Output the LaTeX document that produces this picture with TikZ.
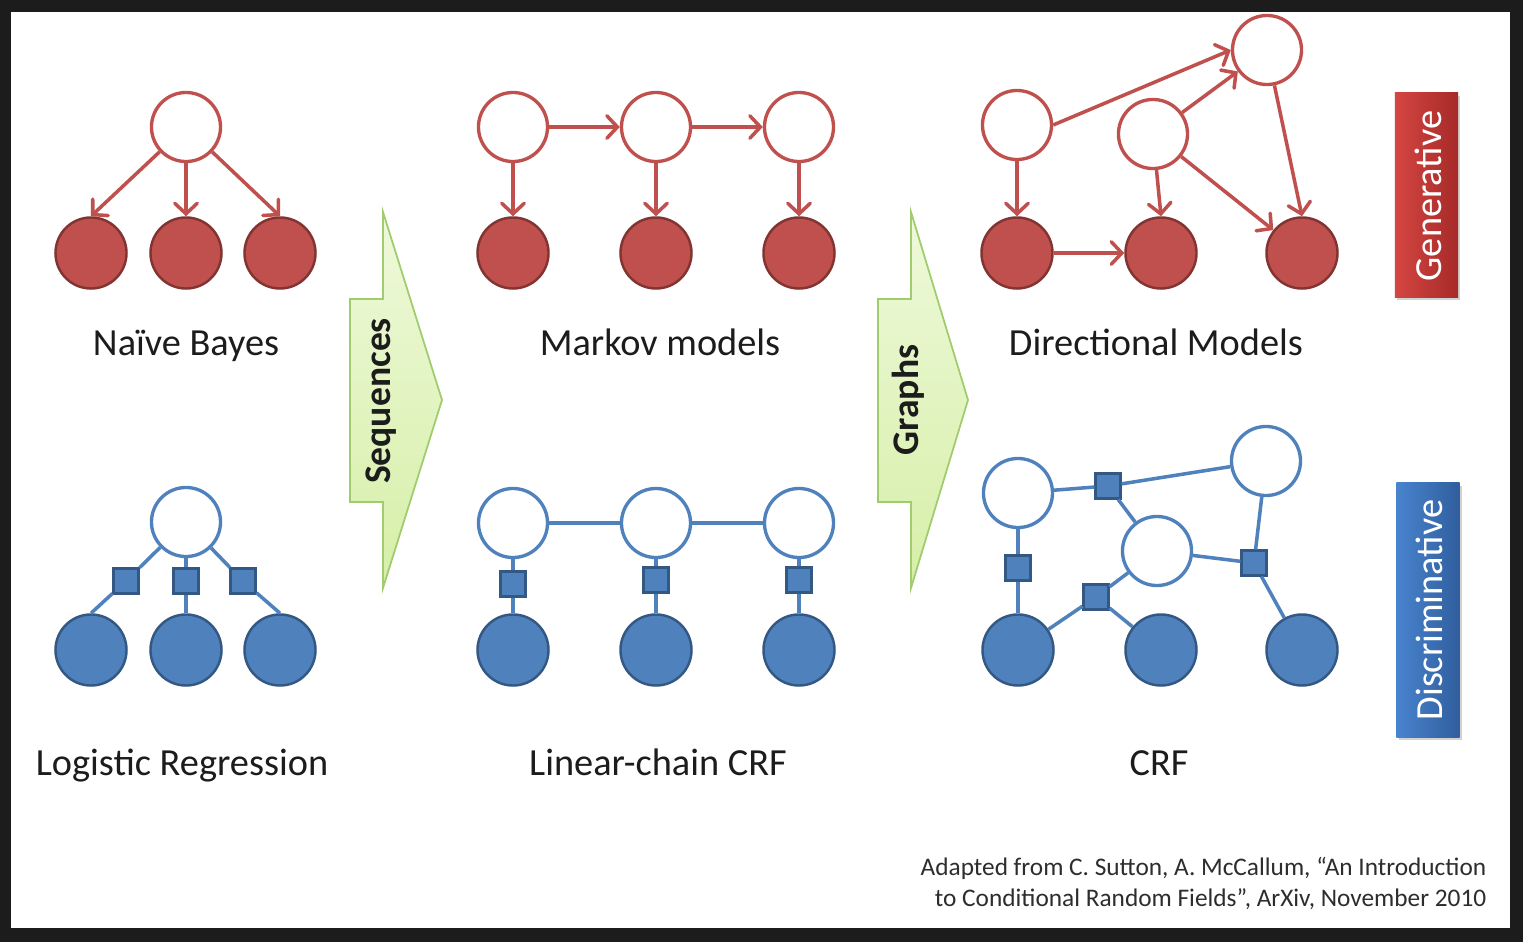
\documentclass[tikz,border=0pt]{standalone}
\usepackage{fontspec}
\setmainfont{Carlito}
\usetikzlibrary{arrows.meta,shadows}

\definecolor{frame}{RGB}{28,28,28}
\definecolor{gred}{RGB}{192,80,77}
\definecolor{gredline}{RGB}{130,52,50}
\definecolor{dblue}{RGB}{79,129,189}
\definecolor{dblueline}{RGB}{52,88,132}
\definecolor{arrowfillA}{RGB}{238,249,218}
\definecolor{arrowfillB}{RGB}{214,239,168}
\definecolor{arrowline}{RGB}{160,204,110}
\definecolor{labeltext}{RGB}{28,28,28}
\definecolor{citetext}{RGB}{45,45,45}
\definecolor{genL}{RGB}{212,70,66}
\definecolor{genR}{RGB}{166,42,40}
\definecolor{disL}{RGB}{72,132,206}
\definecolor{disR}{RGB}{48,94,158}

\tikzset{
  hidR/.style={circle, draw=gred, fill=white, line width=0.95pt, minimum size=0.69cm, inner sep=0pt},
  obsR/.style={circle, draw=gredline, fill=gred, line width=0.7pt, minimum size=0.71cm, inner sep=0pt},
  hidB/.style={circle, draw=dblue, fill=white, line width=0.95pt, minimum size=0.69cm, inner sep=0pt},
  obsB/.style={circle, draw=dblueline, fill=dblue, line width=0.7pt, minimum size=0.71cm, inner sep=0pt},
  factor/.style={rectangle, draw=dblueline, fill=dblue, line width=0.6pt, minimum size=0.25cm, inner sep=0pt},
  rarr/.style={draw=gred, line width=1pt, -{Straight Barb[length=3pt,width=6.4pt,line cap=round]}},
  bline/.style={draw=dblue, line width=1pt},
  lbl/.style={anchor=base, text=labeltext, font=\fontsize{10.9}{13}\selectfont, inner sep=0pt},
  arrowlbl/.style={rotate=90, text=labeltext, font=\bfseries\fontsize{10.7}{12}\selectfont, inner sep=0pt},
  bigarrow/.style={draw=arrowline, line width=0.5pt, top color=arrowfillA, bottom color=arrowfillB},
  sidebox/.style={rectangle, minimum width=0.63cm, inner sep=0pt,
    drop shadow={opacity=0.35, shadow xshift=0.6pt, shadow yshift=-0.8pt}},
  sidelbl/.style={rotate=90, text=white, font=\fontsize{10.9}{13}\selectfont, inner sep=0pt},
  cite/.style={anchor=base east, text=citetext, font=\fontsize{7.2}{8.5}\selectfont, inner sep=0pt}
}

\begin{document}
\begin{tikzpicture}[x=0.01cm, y=-0.01cm]
  % frame and canvas
  \fill[frame] (0,0) rectangle (1523,942);
  \fill[white] (11,12) rectangle (1510,928);
  \useasboundingbox (0,0) rectangle (1523,942);

  % ---- Naive Bayes ----
  \node[hidR] (nbt) at (186,127) {};
  \node[obsR] (nb1) at (91,253) {};
  \node[obsR] (nb2) at (186,253) {};
  \node[obsR] (nb3) at (280,253) {};
  \draw[rarr] (nbt) -- (nb1.north);
  \draw[rarr] (nbt) -- (nb2);
  \draw[rarr] (nbt) -- (nb3.north);
  \node[lbl] (nblbl) at (186,355) {Naïve Bayes};

  % ---- Logistic Regression ----
  \node[hidB] (lrt) at (186,522) {};
  \node[obsB] (lr1) at (91,650) {};
  \node[obsB] (lr2) at (186,650) {};
  \node[obsB] (lr3) at (280,650) {};
  \node[factor] (lrs1) at (126,581) {};
  \node[factor] (lrs2) at (186,581) {};
  \node[factor] (lrs3) at (243,581) {};
  \draw[bline] (lrt) -- (lrs1) -- (lr1.north);
  \draw[bline] (lrt) -- (lrs2) -- (lr2);
  \draw[bline] (lrt) -- (lrs3) -- (lr3.north);
  \node[lbl] (lrlbl) at (182,775) {Logistic Regression};

  % ---- Sequences arrow ----
  \draw[bigarrow] (350,299) -- (383,299) -- (383,212) -- (442,400) -- (383,588)
        -- (383,502) -- (350,502) -- cycle;
  \node[arrowlbl] (seq) at (381,401) {Sequences};

  % ---- Markov models ----
  \node[hidR] (mh1) at (513,127) {};
  \node[hidR] (mh2) at (656,127) {};
  \node[hidR] (mh3) at (799,127) {};
  \node[obsR] (mo1) at (513,253) {};
  \node[obsR] (mo2) at (656,253) {};
  \node[obsR] (mo3) at (799,253) {};
  \draw[rarr] (mh1) -- (mh2);
  \draw[rarr] (mh2) -- (mh3);
  \draw[rarr] (mh1) -- (mo1);
  \draw[rarr] (mh2) -- (mo2);
  \draw[rarr] (mh3) -- (mo3);
  \node[lbl] (mmlbl) at (660,355) {Markov models};

  % ---- Linear-chain CRF ----
  \node[hidB] (ch1) at (513,523) {};
  \node[hidB] (ch2) at (656,523) {};
  \node[hidB] (ch3) at (799,523) {};
  \node[obsB] (co1) at (513,650) {};
  \node[obsB] (co2) at (656,650) {};
  \node[obsB] (co3) at (799,650) {};
  \node[factor] (cs1) at (513,584) {};
  \node[factor] (cs2) at (656,580) {};
  \node[factor] (cs3) at (799,580) {};
  \draw[bline] (ch1) -- (ch2);
  \draw[bline] (ch2) -- (ch3);
  \draw[bline] (ch1) -- (cs1) -- (co1);
  \draw[bline] (ch2) -- (cs2) -- (co2);
  \draw[bline] (ch3) -- (cs3) -- (co3);
  \node[lbl] (lclbl) at (658,775) {Linear-chain CRF};

  % ---- Graphs arrow ----
  \draw[bigarrow] (878,299) -- (911,299) -- (911,212) -- (968,400) -- (911,588)
        -- (911,502) -- (878,502) -- cycle;
  \node[arrowlbl] (gra) at (908,400) {Graphs};

  % ---- Directional models ----
  \node[hidR] (da) at (1017,125) {};
  \node[hidR] (db) at (1153,134) {};
  \node[hidR] (dc) at (1267,50) {};
  \node[obsR] (df1) at (1017,253) {};
  \node[obsR] (df2) at (1161,253) {};
  \node[obsR] (df3) at (1302,253) {};
  \draw[rarr] (da.east) -- (dc.west);
  \draw[rarr] (db) -- (dc);
  \draw[rarr] (da) -- (df1);
  \draw[rarr] (db) -- (df2.north);
  \draw[rarr] (db) -- (df3);
  \draw[rarr] (dc) -- (df3.north);
  \draw[rarr] (df1) -- (df2);
  \node[lbl] (dmlbl) at (1156,355) {Directional Models};

  % ---- General CRF ----
  \node[hidB] (ga) at (1018,493) {};
  \node[hidB] (gc) at (1266,461) {};
  \node[hidB] (gb) at (1157,551) {};
  \node[obsB] (gf1) at (1018,650) {};
  \node[obsB] (gf2) at (1161,650) {};
  \node[obsB] (gf3) at (1302,650) {};
  \node[factor] (gs1) at (1108,486) {};
  \node[factor] (gs2) at (1018,568) {};
  \node[factor] (gs3) at (1096,597) {};
  \node[factor] (gs4) at (1254,563) {};
  \draw[bline] (ga) -- (gs1) -- (gc);
  \draw[bline] (gs1) -- (gb);
  \draw[bline] (ga) -- (gs2) -- (gf1);
  \draw[bline] (gb) -- (gs3);
  \draw[bline] (gs3) -- (gf1);
  \draw[bline] (gs3) -- (gf2);
  \draw[bline] (gb) -- (gs4);
  \draw[bline] (gc) -- (gs4) -- (gf3);
  \node[lbl] (crflbl) at (1159,775) {CRF};

  % ---- side tags ----
  \node[sidebox, minimum height=2.04cm, left color=genL, right color=genR] (gen) at (1426.5,195) {};
  \node[sidelbl] (genlbl) at (1428,196) {Generative};
  \node[sidebox, minimum height=2.54cm, left color=disL, right color=disR] (dis) at (1428,610) {};
  \node[sidelbl] (dislbl) at (1429,610) {Discriminative};

  % ---- reference ----
  \node[cite] (cite1) at (1487,875) {Adapted from C. Sutton, A. McCallum, “An Introduction};
  \node[cite] (cite2) at (1487,906) {to Conditional Random Fields”, ArXiv, November 2010};
\end{tikzpicture}
\end{document}
